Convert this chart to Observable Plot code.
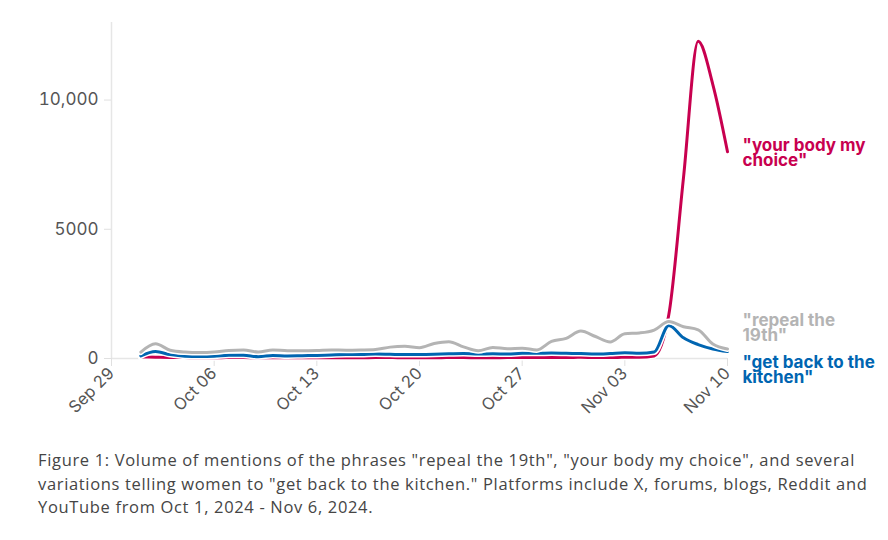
<!DOCTYPE html>
<html>
<head>
<meta charset="utf-8">
<script src="https://cdn.jsdelivr.net/npm/d3@7"></script>
<script src="https://cdn.jsdelivr.net/npm/@observablehq/plot@0.6"></script>
<style>
  html, body { margin: 0; padding: 0; background: #fff; }
  #caption {
    margin: 8px 0 0 38px;
    font-family: "Open Sans", sans-serif;
    font-size: 16.5px;
    line-height: 23.5px;
    color: #454545;
    white-space: nowrap;
  }
</style>
</head>
<body>
<div id="chart"></div>
<div id="caption"><span id="cap1">Figure 1: Volume of mentions of the phrases "repeal the 19th", "your body my choice", and several</span><br>variations telling women to "get back to the kitchen." Platforms include X, forums, blogs, Reddit and<br>YouTube from Oct 1, 2024 - Nov 6, 2024.</div>
<script>
const dates = [
  "2024-10-01","2024-10-02","2024-10-03","2024-10-04","2024-10-05","2024-10-06","2024-10-07",
  "2024-10-08","2024-10-09","2024-10-10","2024-10-11","2024-10-12","2024-10-13","2024-10-14",
  "2024-10-15","2024-10-16","2024-10-17","2024-10-18","2024-10-19","2024-10-20","2024-10-21",
  "2024-10-22","2024-10-23","2024-10-24","2024-10-25","2024-10-26","2024-10-27","2024-10-28",
  "2024-10-29","2024-10-30","2024-10-31","2024-11-01","2024-11-02","2024-11-03","2024-11-04",
  "2024-11-05","2024-11-06","2024-11-07","2024-11-08","2024-11-09","2024-11-10"
];
const yourBodyMyChoice = [
  60, 50, 40, 35, 30, 30, 35, 35, 30, 30, 30, 30, 30, 30,
  30, 30, 35, 35, 30, 30, 30, 35, 35, 30, 30, 35, 35, 35,
  40, 40, 45, 40, 40, 45, 45, 100, 1700, 7000, 12270, 10600, 8000
];
const getBackToTheKitchen = [
  100, 270, 150, 90, 80, 90, 130, 130, 70, 120, 100, 110, 120, 140,
  150, 150, 170, 160, 150, 150, 160, 180, 190, 170, 180, 170, 200, 200,
  210, 200, 190, 170, 190, 220, 200, 250, 1280, 800, 540, 370, 270
];
const repealThe19th = [
  250, 570, 320, 250, 230, 250, 310, 330, 250, 330, 300, 300, 310, 330,
  320, 330, 350, 440, 470, 420, 580, 650, 450, 300, 430, 380, 400, 330,
  660, 780, 1060, 850, 640, 960, 990, 1100, 1430, 1230, 1110, 560, 370
];
const seriesNames = ["your body my choice", "get back to the kitchen", "repeal the 19th"];
const seriesLabels = ['"your body my\nchoice"', '"get back to the\nkitchen"', '"repeal the\n19th"'];
const seriesColors = ["#c8004f", "#0065b1", "#b4b4b4"];
const seriesValues = [yourBodyMyChoice, getBackToTheKitchen, repealThe19th];

const xTicks = ["2024-09-29","2024-10-06","2024-10-13","2024-10-20","2024-10-27","2024-11-03","2024-11-10"];
const xTickLabels = ["Sep 29","Oct 06","Oct 13","Oct 20","Oct 27","Nov 03","Nov 10"];
const yTicks = [0, 5000, 10000];
const yTickLabels = ["0", "5000", "10,000"];

const rows = seriesNames.flatMap((name, s) =>
  dates.map((d, i) => ({series: name, date: new Date(d), value: seriesValues[s][i]}))
);
const lastRows = seriesNames.map((name, s) => ({
  series: name, label: seriesLabels[s], date: new Date(dates[dates.length - 1]),
  value: seriesValues[s][dates.length - 1]
}));
const labelDy = {"your body my choice": 2, "get back to the kitchen": 19, "repeal the 19th": -20};

const lineMarks = seriesNames.flatMap((name, s) => {
  const data = rows.filter(r => r.series === name);
  return [
    Plot.line(data, {x: "date", y: "value", stroke: "#fff", strokeWidth: 6, curve: "monotone-x"}),
    Plot.line(data, {x: "date", y: "value", stroke: seriesColors[s], strokeWidth: 3, curve: "monotone-x"})
  ];
});
const labelMarks = lastRows.map((r, s) =>
  Plot.text([r], {
    x: "date", y: "value", text: "label", dx: 15, dy: labelDy[r.series],
    textAnchor: "start", lineAnchor: "middle", lineHeight: 0.9,
    fill: seriesColors[s], fontWeight: "bold", fontSize: 17
  })
);

const chart = Plot.plot({
  width: 888,
  height: 440,
  marginLeft: 111,
  marginRight: 161,
  marginTop: 22,
  marginBottom: 82,
  style: {fontFamily: "Inter, sans-serif", fontSize: "17px", color: "#555", background: "#fff", overflow: "visible"},
  x: {type: "utc", domain: [new Date(xTicks[0]), new Date(xTicks[xTicks.length - 1])]},
  y: {domain: [0, 13000]},
  marks: [
    Plot.ruleX([new Date(xTicks[0])], {stroke: "#e6e6e6", strokeWidth: 1.5}),
    Plot.ruleY([0], {stroke: "#e6e6e6", strokeWidth: 1.5}),
    Plot.axisY({ticks: yTicks, tickFormat: (d, i) => yTickLabels[yTicks.indexOf(d)], tickSize: 7, tickPadding: 6,
      stroke: "#e0e0e0", fill: "#555", fontSize: 17, label: null}),
    Plot.axisX({ticks: xTicks.map(d => new Date(d)), tickFormat: (d) => xTickLabels[xTicks.findIndex(t => +new Date(t) === +d)],
      tickRotate: -45, tickSize: 8, tickPadding: 4, stroke: "#e0e0e0", fill: "#555", fontSize: 16.5, label: null}),
    ...lineMarks,
    ...labelMarks
  ]
});
document.getElementById("chart").appendChild(chart);

// stretch caption letter spacing so the first line spans the same width as the reference
const cap1 = document.getElementById("cap1");
const w = cap1.getBoundingClientRect().width;
const target = 817;
const n = cap1.textContent.length;
const ls = Math.max(-0.5, Math.min(1.2, (target - w) / n));
document.getElementById("caption").style.letterSpacing = ls.toFixed(3) + "px";
</script>
</body>
</html>
